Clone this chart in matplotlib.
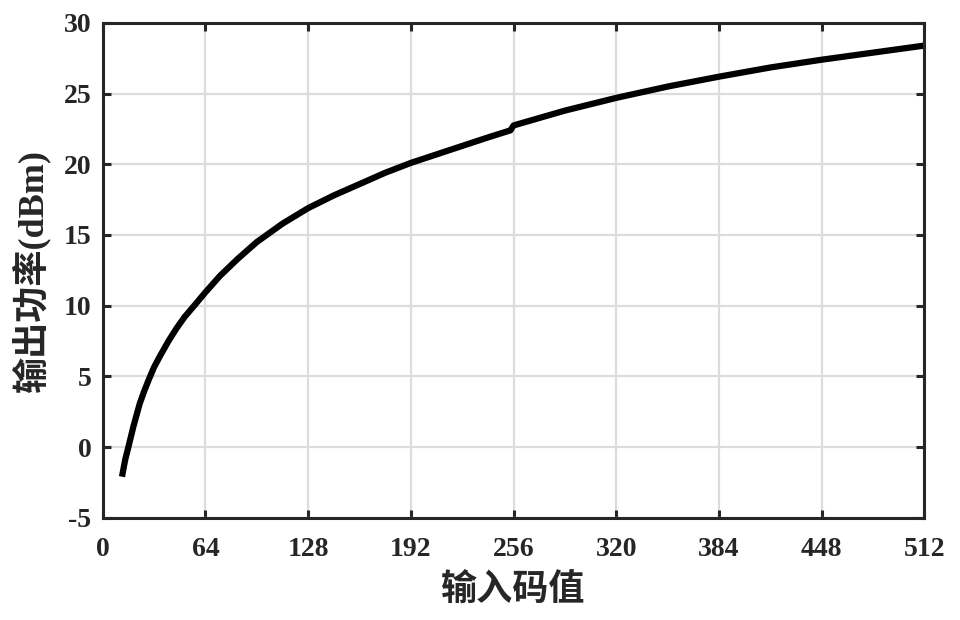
import numpy as np
import matplotlib
matplotlib.use('Agg')
import matplotlib.pyplot as plt

# --- Data ---
code_values = [12, 14, 16, 19, 23, 26, 29, 32, 36, 41, 46, 51, 57, 64, 73, 84,
               96, 112, 128, 144, 160, 176, 192, 208, 224, 240, 254, 256, 288,
               320, 352, 384, 416, 448, 480, 512]
power_dbm = [-2.1, -0.9, 0.0, 1.4, 3.05, 4.0, 4.85, 5.65, 6.5, 7.5, 8.4, 9.2,
             10.0, 10.95, 12.1, 13.3, 14.5, 15.8, 16.9, 17.8, 18.6, 19.4, 20.1,
             20.7, 21.3, 21.9, 22.4, 22.75, 23.8, 24.7, 25.5, 26.2, 26.85, 27.4,
             27.9, 28.4]
x_ticks = [0, 64, 128, 192, 256, 320, 384, 448, 512]
y_ticks = [-5, 0, 5, 10, 15, 20, 25, 30]

plt.rcParams['axes.unicode_minus'] = False

fig = plt.figure(figsize=(9.6, 6.2), dpi=100)
ax = fig.add_axes([0.107, 0.165, 0.856, 0.798])

ax.plot(code_values, power_dbm, color='black', linewidth=4.5,
        solid_capstyle='butt', solid_joinstyle='round')

ax.set_xlim(0, 512)
ax.set_ylim(-5, 30)
ax.set_xticks(x_ticks)
ax.set_yticks(y_ticks)
ax.grid(True, color='#dcdcdc', linewidth=1.6)
ax.set_axisbelow(True)

for s in ax.spines.values():
    s.set_linewidth(2.2)
    s.set_color('#262626')
ax.tick_params(direction='in', length=6, width=2.2, color='#262626',
               top=True, right=True)
ax.tick_params(axis='y', pad=8)
ax.tick_params(axis='x', pad=14)
for lbl in ax.get_xticklabels() + ax.get_yticklabels():
    lbl.set_family('Liberation Serif')
    lbl.set_fontweight('bold')
    lbl.set_fontsize(20)
    lbl.set_color('#262626')

lab_font = ['Liberation Serif', 'Noto Sans CJK SC']
ax.set_xlabel('输入码值', family=lab_font, fontsize=26, fontweight='bold',
              color='#262626', labelpad=9)
ax.set_ylabel('输出功率(dBm)', family=lab_font, fontsize=26, fontweight='bold',
              color='#262626', labelpad=10)

fig.savefig('out.png', dpi=100, facecolor='white')
